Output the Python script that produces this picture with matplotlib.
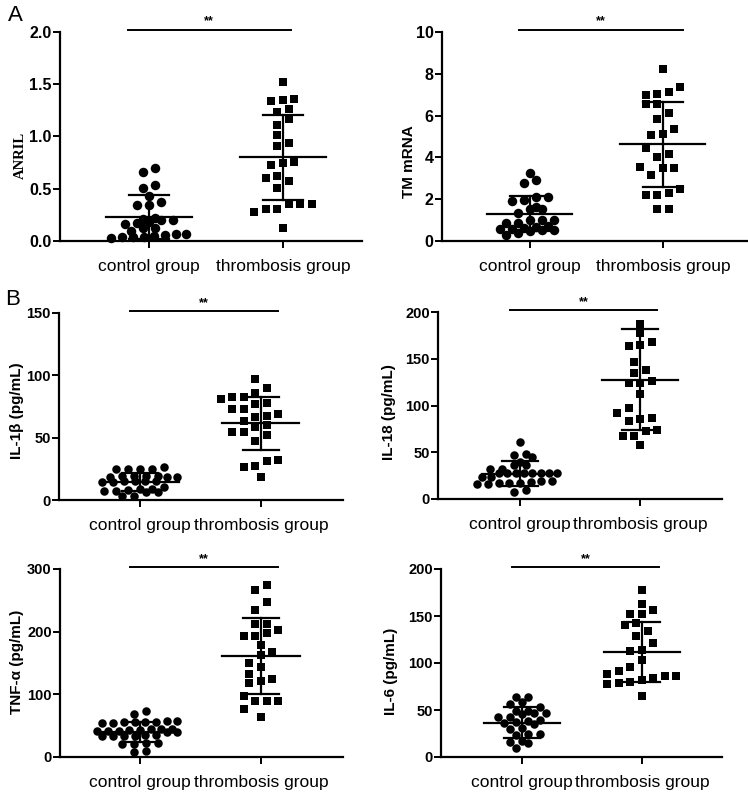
import numpy as np
import matplotlib.pyplot as plt

plt.rcParams['font.family'] = ['Liberation Sans', 'DejaVu Sans']

groups = ['control group', 'thrombosis group']

# values
anril_ctrl = [0.66, 0.70, 0.54, 0.51, 0.43, 0.37, 0.34, 0.34, 0.21, 0.20, 0.17, 0.16,
              0.18, 0.20, 0.22, 0.12, 0.12, 0.07, 0.06, 0.07, 0.10, 0.04, 0.04, 0.03,
              0.04, 0.05]
anril_thr = [1.52, 1.35, 1.34, 1.36, 1.26, 1.23, 1.17, 1.11, 1.01, 0.91, 0.94, 0.75,
             0.73, 0.76, 0.60, 0.62, 0.57, 0.51, 0.35, 0.35, 0.31, 0.28, 0.31, 0.35, 0.12]
anril_mean = [0.23, 0.80]
anril_sd = [0.21, 0.41]

tm_ctrl = [3.23, 2.90, 2.78, 2.11, 1.95, 2.11, 1.89, 1.63, 1.54, 1.54, 1.36, 0.99,
           0.99, 0.99, 0.86, 0.67, 0.56, 0.51, 0.40, 0.30, 0.46, 0.51, 0.56, 0.62,
           0.70, 0.85]
tm_thr = [8.24, 7.36, 6.99, 7.15, 7.04, 6.54, 6.54, 6.11, 5.84, 5.36, 5.07, 5.12,
          4.43, 4.16, 4.00, 3.47, 3.55, 3.47, 3.15, 2.51, 2.22, 2.22, 2.30, 1.52, 1.55]
tm_mean = [1.31, 4.62]
tm_sd = [0.85, 2.03]

il1b_ctrl = [26.7, 24.9, 24.9, 24.9, 24.9, 19.5, 18.5, 19.0, 18.8, 19.3, 18.5, 19.5,
             15.5, 14.5, 14.5, 15.0, 15.5, 15.5, 10.7, 8.6, 7.5, 6.7, 6.7, 7.5, 8.0,
             9.0, 3.0, 3.0]
il1b_thr = [96.7, 90.0, 85.5, 82.5, 82.5, 81.2, 78.0, 77.1, 72.9, 72.9, 69.1, 66.4,
            67.0, 63.0, 60.0, 58.9, 54.4, 54.9, 52.5, 47.7, 31.6, 32.1, 27.6, 26.8, 18.8]
il1b_mean = [14.2, 61.6]
il1b_sd = [7.3, 21.4]

il18_ctrl = [61.3, 47.0, 48.1, 39.9, 44.6, 36.4, 36.4, 32.0, 32.0, 27.5, 27.5, 27.5,
             27.5, 27.5, 27.5, 27.5, 27.5, 24.0, 24.0, 19.0, 17.0, 16.0, 17.0, 18.0,
             17.0, 16.0, 19.0, 7.8, 9.6]
il18_thr = [187.1, 177.1, 167.5, 163.9, 164.3, 146.8, 137.9, 134.3, 126.1, 124.3,
            123.6, 112.1, 97.5, 92.1, 85.4, 86.8, 83.2, 73.6, 72.5, 67.5, 67.5, 57.5]
il18_mean = [27.1, 127.5]
il18_sd = [13.4, 54.0]

tnf_ctrl = [74, 68, 56, 56, 57, 56, 55, 55, 57, 56, 45, 43, 42, 40, 44, 41, 43, 45,
            42, 40, 35, 34, 33, 33, 34, 35, 22, 20, 21, 23, 8, 9]
tnf_thr = [274, 267, 247, 235, 202, 212, 212, 198, 193, 193, 178, 168, 163, 150, 144,
           133, 125, 118, 121, 97, 89, 89, 89, 77, 64]
tnf_mean = [40, 161]
tnf_sd = [16.5, 61]

il6_ctrl = [64.2, 64.2, 56.4, 58.8, 52.8, 49.0, 47.0, 46.0, 47.0, 49.0, 42.9, 42.9,
            36.0, 38.0, 35.0, 37.0, 39.0, 29.8, 31.0, 24.8, 23.5, 24.8, 16.3, 16.8,
            14.5, 9.2]
il6_thr = [177.3, 163.1, 156.0, 152.5, 152.5, 142.6, 140.1, 134.0, 128.4, 121.3, 114.2,
           112.8, 102.8, 95.7, 91.5, 87.9, 85.8, 81.6, 79.1, 77.3, 79.8, 84.0, 85.8, 64.9]
il6_mean = [36.5, 111.7]
il6_sd = [16.3, 32.0]

W, H = 748, 797
fig = plt.figure(figsize=(W / 100, H / 100), dpi=100)


def swarm_x(ax, vals, center, step, row_h, cy, max_w=None, cx=None, kmax=3):
    # rows of points, each row centred, shifted by half steps to dodge neighbours
    vals = np.asarray(vals, float)
    tr = ax.transData.transform
    ys = tr(np.column_stack([np.full(len(vals), center), vals]))[:, 1]
    ppu = tr((1, 0))[0] - tr((0, 0))[0]
    order = np.argsort(ys)
    rows, cur = [], [order[0]]
    for i in order[1:]:
        if ys[i] - ys[cur[0]] <= row_h:
            cur.append(i)
        else:
            rows.append(cur)
            cur = [i]
    rows.append(cur)

    xs = np.zeros(len(vals))
    placed = []
    for r, row in enumerate(rows):
        n = len(row)
        st = step
        if max_w and n > 1:
            st = min(step, max_w / (n - 1))
        lim = cx if cx else 0.45 * st
        base = (np.arange(n) - (n - 1) / 2) * st
        sgn = 1 if r % 2 == 0 else -1
        shifts = [0.0]
        for k in range(1, kmax + 1):
            shifts += [sgn * k * st / 2, -sgn * k * st / 2]
        best, best_hits = None, None
        for sh in shifts:
            pos = base + sh
            hits = sum(abs(p - px) < lim and abs(ys[i] - py) < cy
                       for p, i in zip(pos, row) for px, py in placed)
            if best_hits is None or hits < best_hits:
                best, best_hits = pos, hits
            if hits == 0:
                break
        for p, i in zip(best, row):
            xs[i] = p
            placed.append((p, ys[i]))
    return center + xs / ppu


def panel(box, xlim, ylim, yticks, fmt, ylabel, lab_xy, data, means, sds, sig,
          tick_fs, big, yfont=None):
    l, r, t, b = box
    ax = fig.add_axes([l / W, 1 - b / H, (r - l) / W, (b - t) / H])
    ax.set_xlim(*xlim)
    ax.set_ylim(*ylim)
    for s in ['top', 'right']:
        ax.spines[s].set_visible(False)
    for s in ['left', 'bottom']:
        ax.spines[s].set_linewidth(1.6)
    ax.set_yticks(yticks)
    ax.set_yticklabels([fmt.format(v) for v in yticks], fontsize=tick_fs,
                       fontweight='bold')
    ax.set_xticks([0, 1])
    ax.set_xticklabels(groups, fontsize=12.5)
    ax.tick_params(axis='y', length=5, width=1.4, pad=1)
    ax.tick_params(axis='x', length=5, width=1.4, pad=8)

    kw = dict(fontsize=11, fontweight='bold', va='center')
    if yfont:
        kw['family'] = yfont
        kw['fontsize'] = 10.5
    ax.set_ylabel(ylabel, **kw)
    ax.yaxis.set_label_coords(*lab_xy)

    # circle / square size in px
    dot = 9.5 if big else 8.5
    sq = 8.5 if big else 8.0
    xs0 = swarm_x(ax, data[0], 0, 12.0, 5.0, 7.0, max_w=75)
    xs1 = swarm_x(ax, data[1], 1, 11.5, 8.0, sq + 0.5, cx=sq + 0.5, kmax=5)
    ax.scatter(xs0, data[0], marker='o', s=(dot * 0.72) ** 2, color='black',
               linewidths=0, zorder=3, clip_on=False)
    ax.scatter(xs1, data[1], marker='s', s=(sq * 0.72) ** 2, color='black',
               linewidths=0, zorder=3, clip_on=False)
    for g in range(2):
        m, sd = means[g], sds[g]
        ax.plot([g - 0.32, g + 0.32], [m, m], color='black', lw=1.6, zorder=4)
        ax.plot([g, g], [m - sd, m + sd], color='black', lw=1.6, zorder=4)
        for y in (m - sd, m + sd):
            ax.plot([g - 0.15, g + 0.15], [y, y], color='black', lw=1.6, zorder=4)

    xt = ax.get_xaxis_transform()
    ax.plot(sig, [1.01, 1.01], color='black', lw=1.4, transform=xt, clip_on=False)
    ax.annotate('**', xy=(sum(sig) / 2, 1.01), xycoords=xt, xytext=(0, 6),
                textcoords='offset points', ha='center', va='center', fontsize=9,
                fontweight='bold')
    return ax


panel((60, 362, 32, 241), (-0.664, 1.59), (0, 2.0), [0, 0.5, 1.0, 1.5, 2.0], '{:.1f}',
      'ANRIL', (-0.132, 0.41), [anril_ctrl, anril_thr], anril_mean, anril_sd,
      [-0.16, 1.06], 11.5, True, yfont=['Liberation Serif', 'DejaVu Serif'])
panel((442, 748, 32, 241), (-0.66, 1.64), (0, 10), [0, 2, 4, 6, 8, 10], '{:d}',
      'TM mRNA', (-0.108, 0.38), [tm_ctrl, tm_thr], tm_mean, tm_sd,
      [-0.08, 1.15], 11.5, True)
panel((59, 343, 313, 500), (-0.67, 1.68), (0, 150), [0, 50, 100, 150], '{:d}',
      'IL-1β (pg/mL)', (-0.148, 0.476), [il1b_ctrl, il1b_thr], il1b_mean, il1b_sd,
      [-0.08, 1.14], 10.5, False)
panel((438, 722, 312, 499), (-0.683, 1.683), (0, 200), [0, 50, 100, 150, 200], '{:d}',
      'IL-18 (pg/mL)', (-0.173, 0.465), [il18_ctrl, il18_thr], il18_mean, il18_sd,
      [-0.08, 1.14], 10.5, False)
panel((60, 343, 569, 757), (-0.661, 1.678), (0, 300), [0, 100, 200, 300], '{:d}',
      'TNF-α (pg/mL)', (-0.152, 0.505), [tnf_ctrl, tnf_thr], tnf_mean, tnf_sd,
      [-0.08, 1.14], 10.5, False)
panel((441, 722, 569, 757), (-0.675, 1.667), (0, 200), [0, 50, 100, 150, 200], '{:d}',
      'IL-6 (pg/mL)', (-0.178, 0.457), [il6_ctrl, il6_thr], il6_mean, il6_sd,
      [-0.08, 1.14], 10.5, False)

fig.text(0.011, 0.98, 'A', fontsize=16, va='center')
fig.text(0.007, 0.624, 'B', fontsize=16, va='center')

fig.savefig('out.png', dpi=100)
